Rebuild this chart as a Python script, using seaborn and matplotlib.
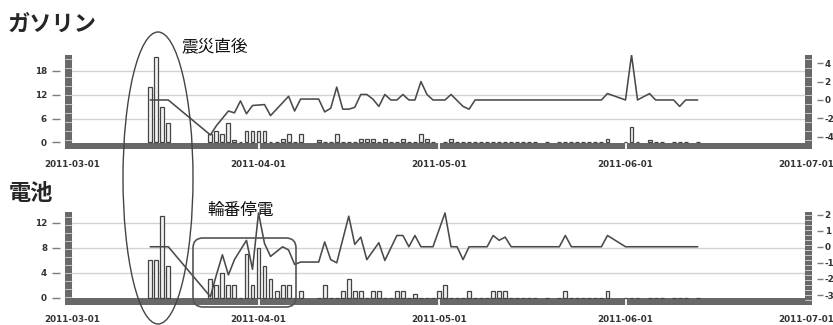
import numpy as np
import pandas as pd
import matplotlib
matplotlib.use('Agg')
import matplotlib.pyplot as plt
import matplotlib.transforms as mtransforms
import seaborn as sns
from matplotlib.patches import Rectangle, Ellipse, FancyBboxPatch

# x positions are days counted from 2011-03-01
month_days = [0, 31, 61, 92, 122]
month_labels = ['2011-03-01', '2011-04-01', '2011-05-01', '2011-06-01', '2011-07-01']

# gasoline (ガソリン) - bars on left axis, line on right axis
gas_bar_day = [13, 14, 15, 16, 23, 24, 25, 26, 27, 28, 29, 30, 31, 32, 33, 34, 35, 36, 37, 38,
               41, 42, 43, 44, 45, 46, 47, 48, 49, 50, 51, 52, 53, 54, 55, 56, 57, 58, 59, 60, 62, 63,
               64, 65, 66, 67, 68, 69, 70, 71, 72, 73, 74, 75, 76, 77, 79,
               81, 82, 83, 84, 85, 86, 87, 88, 89, 92, 93, 94, 96, 97, 98, 100, 101, 102, 104]
gas_bar_val = [14, 21.5, 9, 5, 2, 3, 2, 5, 0.7, 0, 3, 3, 3, 3, 0, 0, 0.8, 2, 0, 2,
               0.7, 0, 0, 2, 0, 0, 0, 0.9, 0.9, 0.9, 0, 0.9, 0, 0, 0.9, 0, 0, 2, 0.9, 0, 0, 0.8,
               0, 0, 0, 0, 0, 0, 0, 0, 0, 0, 0, 0, 0, 0, 0,
               0, 0, 0, 0, 0, 0, 0, 0, 0.8, 0, 4, 0, 0.7, 0, 0, 0, 0, 0, 0]
gas_line_day = [13, 16, 23, 24, 26, 27, 28, 29, 30, 32, 33, 36, 37, 38, 41, 42, 43, 44, 45, 46,
                47, 48, 49, 50, 51, 52, 53, 54, 55, 56, 57, 58, 59, 60, 62, 63, 65, 66, 67, 88,
                89, 92, 93, 94, 96, 97, 100, 101, 102, 104]
gas_line_val = [0, 0, -3.8, -2.8, -1.2, -1.4, -0.1, -1.5, -0.6, -0.5, -1.7, 0.4, -1.2, 0.1, 0.1, -1.3, -0.9, 1.4, -1.0, -1.0,
                -0.8, 0.6, 0.6, 0.1, -0.7, 0.6, 0, 0, 0.6, 0, 0, 2.0, 0.6, 0, 0, 0.6, -0.7, -1.0, 0, 0,
                0.7, 0, 4.9, 0, 0.7, 0, 0, -0.7, 0, 0]

# batteries (電池)
bat_bar_day = [13, 14, 15, 16, 23, 24, 25, 26, 27, 28, 29, 30, 31, 32, 33, 34, 35, 36, 37, 38,
               41, 42, 43, 44, 45, 46, 47, 48, 49, 50, 51, 52, 53, 54, 55, 56, 57, 58, 59, 60, 61, 62,
               63, 64, 65, 66, 67, 68, 69, 70, 71, 72, 73, 74, 75, 76, 77, 79,
               81, 82, 83, 84, 85, 86, 87, 88, 89, 92, 93, 94, 96, 97, 98, 100, 101, 102, 104]
bat_bar_val = [6, 6, 13, 5, 3, 2, 4, 2, 2, 0, 7, 2, 8, 5, 3, 1, 2, 2, 0, 1,
               0, 2, 0, 0, 1, 3, 1, 1, 0, 1, 1, 0, 0, 1, 1, 0, 0.5, 0, 0, 0, 1, 2,
               0, 0, 0, 1, 0, 0, 0, 1, 1, 1, 0, 0, 0, 0, 0, 0,
               0, 1, 0, 0, 0, 0, 0, 0, 1, 0, 0, 0, 0, 0, 0, 0, 0, 0, 0]
bat_line_day = [13, 16, 23, 24, 25, 26, 27, 29, 30, 31, 32, 33, 34, 35, 36, 37, 38, 41, 42, 43,
                44, 46, 47, 48, 49, 51, 52, 54, 55, 56, 57, 58, 60, 62, 63, 64, 65, 66, 69, 70,
                71, 72, 73, 81, 82, 83, 88, 89, 92, 104]
bat_line_val = [0, 0, -3.1, -1.75, -0.5, -1.75, -0.8, 0.4, -1.4, 2.1, 0.2, -0.6, -0.3, 0, -0.2, -1.1, -0.95, -0.95, 0.3, -0.8,
                -1.0, 1.9, 0.15, 0.6, -0.8, 0.25, -0.85, 0.7, 0.7, 0, 0.7, 0, 0, 2.1, 0, 0, -0.8, 0, 0, 0.7,
                0.4, 0.6, 0, 0, 0.7, 0, 0, 0.7, 0, 0]

sns.set_theme(style='white')
plt.rcParams['font.family'] = ['DejaVu Sans', 'Noto Sans CJK JP']
plt.rcParams['axes.unicode_minus'] = False

W, H = 833, 325
fig = plt.figure(figsize=(W / 100, H / 100), dpi=100)
BAR_GREY = '#686868'


def panel(top, bottom, bdays, bvals, ldays, lvals, ylim, yticks, y2lim, y2ticks, band_px, xpad, seg_l, seg_r):
    ax = fig.add_axes([72 / W, 1 - bottom / H, 734 / W, (bottom - top) / H])
    hpx = bottom - top
    df = pd.DataFrame({'day': bdays, 'val': bvals})
    sns.barplot(data=df, x='day', y='val', native_scale=True, width=0.65, color='#f2f2f2',
                edgecolor='#444444', linewidth=0.9, saturation=1, errorbar=None, ax=ax, zorder=3)
    ax.set_xlim(0, 122)
    ax.set_ylim(*ylim)
    for v in yticks:
        if v != 0:
            ax.axhline(v, color='#d2d2d2', lw=1, zorder=1)
    # thick grey base band with month notches
    ax.add_patch(Rectangle((0, 0), 1, band_px / hpx, transform=ax.transAxes,
                           color=BAR_GREY, lw=0, zorder=2))
    for d in month_days[1:-1]:
        ax.axvline(d, 0, band_px / hpx, color='white', lw=1.3, zorder=2.2)
    # thick segmented side bars
    for x0, seg in [(-7 / 734, seg_l), (733 / 734, seg_r)]:
        ax.add_patch(Rectangle((x0, 0), 7 / 734, 1, transform=ax.transAxes, color=BAR_GREY,
                               lw=0, clip_on=False, zorder=2))
        for yy in np.arange(seg, hpx, seg):
            ax.plot([x0, x0 + 7 / 734], [yy / hpx, yy / hpx], transform=ax.transAxes,
                    color='#d8d8d8', lw=0.6, clip_on=False, zorder=2.1)

    ax.set_yticks(yticks)
    ax.set_xticks(month_days, month_labels)
    ax.tick_params(axis='y', left=True, direction='out', length=6, width=1, color='#7a7a7a',
                   pad=3, labelsize=6.3, labelcolor='#333333')
    ax.tick_params(axis='x', bottom=True, length=0, pad=xpad, labelsize=6.3, labelcolor='#333333')
    for s in ax.spines.values():
        s.set_color('none')
    ax.spines['left'].set_position(('outward', 9))
    ax.set_xlabel('')
    ax.set_ylabel('')

    ax2 = ax.twinx()
    sns.lineplot(x=ldays, y=lvals, ax=ax2, color='#4a4a4a', lw=1.15, zorder=4)
    ax2.set_xlim(0, 122)
    ax2.set_ylim(*y2lim)
    ax2.set_yticks(y2ticks)
    ax2.tick_params(axis='y', right=True, direction='out', length=4, width=1, color='#7a7a7a',
                    pad=1.5, labelsize=6.3, labelcolor='#333333')
    for s in ax2.spines.values():
        s.set_color('none')
    ax2.spines['right'].set_position(('outward', 8))
    ax2.set_ylabel('')
    for lab in ax.get_xticklabels() + ax.get_yticklabels() + ax2.get_yticklabels():
        lab.set_fontweight('bold')
    return ax, ax2


panel(55, 149, gas_bar_day, gas_bar_val, gas_line_day, gas_line_val,
      (-1.63, 21.9), [0, 6, 12, 18], (-5.33, 4.89), [-4, -2, 0, 2, 4], 6, 8, 9, 9)
panel(212, 305, bat_bar_day, bat_bar_val, bat_line_day, bat_line_val,
      (-1.2, 13.7), [0, 4, 8, 12], (-3.62, 2.16), [-3, -2, -1, 0, 1, 2], 7, 7.2, 8, 5)

# panel titles
fig.text(8 / W, 1 - 24 / H, 'ガソリン', fontsize=16, fontweight='bold', va='center', ha='left',
         family=['Noto Sans CJK JP'])
fig.text(9 / W, 1 - 194 / H, '電池', fontsize=16, fontweight='bold', va='center', ha='left',
         family=['Noto Sans CJK JP'])

# annotations
fig.add_artist(Ellipse((158 / W, 1 - 178 / H), 70 / W, 292 / H, transform=fig.transFigure,
                       fill=False, edgecolor='#444444', lw=1))
fig.text(215 / W, 1 - 47 / H, '震災直後', fontsize=12, va='center', ha='center',
         family=['Noto Sans CJK JP'], color='#111111')
fig.add_artist(FancyBboxPatch((193, H - 307), 103, 69, boxstyle='round,pad=0,rounding_size=10',
                              transform=mtransforms.IdentityTransform(), fill=False,
                              edgecolor='#555555', lw=1.2))
fig.text(241 / W, 1 - 210 / H, '輪番停電', fontsize=12, va='center', ha='center',
         family=['Noto Sans CJK JP'], color='#111111')

fig.savefig('out.png', dpi=100)
